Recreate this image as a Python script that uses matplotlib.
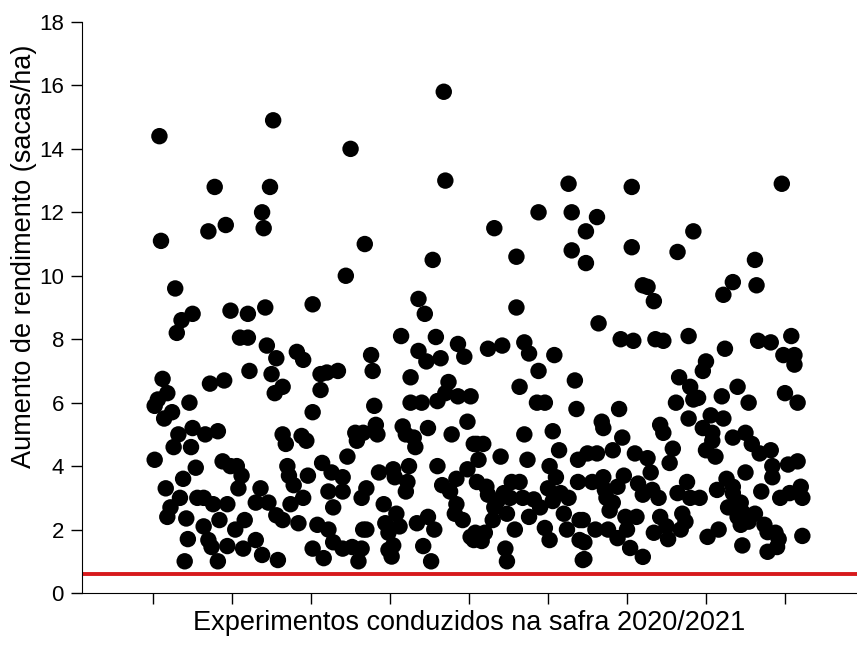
import numpy as np
import matplotlib.pyplot as plt

plt.rcParams['font.family'] = ['Liberation Sans', 'DejaVu Sans']

# experiment number and yield gain (sacas/ha)
experimento = [
    1, 4, 5, 6, 9, 3, 1, 23, 12, 7, 25, 16, 33, 41, 13, 24, 44, 49, 53, 56,
    27, 19, 8, 54, 17, 28, 32, 38, 47, 11, 9, 21, 42, 58, 32, 52, 22, 35, 37, 47,
    57, 20, 41, 14, 39, 35, 46, 25, 18, 15, 49, 60, 55, 60, 61, 36, 45,
    76, 125, 74, 69, 70, 134, 122, 101, 71, 72, 78, 91, 95, 75, 82, 77, 106, 110,
    117, 106, 101, 82, 84, 94, 97, 128, 129, 123, 85, 86, 98, 107, 113, 120, 68, 89,
    95, 111, 120, 65, 73, 87, 114, 78, 82, 92, 104, 111, 133, 65, 101, 108, 114, 120,
    126, 69, 79, 130,
    184, 185, 177, 168, 172, 157, 179, 193, 138, 168, 173, 182, 197, 139, 163, 187,
    185, 193, 201, 163, 170, 180, 140, 199, 141, 158, 174, 133, 142, 160, 165, 189,
    166, 203, 180, 162, 143, 152, 153, 161, 160, 192, 199, 183, 188, 135, 132, 192,
    146, 154, 191, 147, 156, 167, 174, 196, 135, 178, 149, 201, 152, 171, 149, 151,
    132, 176,
    263, 244, 265, 216, 274, 265, 230, 274, 230, 221, 212, 235, 238, 254, 244, 232,
    267, 243, 248, 268, 235, 253, 205, 209, 257, 220, 237, 206, 269, 251, 255, 205,
    211, 227, 232, 250, 212, 222, 258, 269, 218, 226, 234, 241, 253, 263, 216, 245,
    224, 260, 215, 238, 270, 229, 248, 262, 204, 210, 203, 208, 251, 270, 223, 224,
    272,
    303, 281, 342, 303, 332, 310, 313, 317, 282, 296, 304, 318, 323, 339, 333, 340,
    342, 331, 339, 295, 284, 285, 321, 323, 297, 291, 329, 305, 275, 281, 313, 327,
    315, 298, 285, 278, 338, 307, 294, 286, 310, 316, 332, 320, 287, 340, 291, 289,
    321, 335, 299, 306, 272, 337, 325, 280, 288, 300, 334, 317, 294, 326, 273, 302,
    310, 273,
    398, 381, 367, 361, 382, 383, 391, 404, 362, 399, 406, 406, 350, 348, 345, 360,
    370, 377, 400, 408, 353, 361, 348, 354, 354, 367, 375, 379, 384, 391, 350, 356,
    375, 392, 392, 402, 408, 363, 357, 367, 367, 385, 346, 397, 403, 410, 411, 364,
    372, 373, 381, 370, 377, 372, 387, 394, 389, 351, 358, 396, 411, 373, 389, 395,
]
rendimento = [
    4.2, 14.4, 11.1, 6.75, 6.3, 6.1, 5.9, 6.0, 5.7, 5.5, 5.2, 5.0, 5.0, 5.1, 4.6, 4.6, 4.15, 4.0, 4.0, 3.7,
    3.95, 3.6, 3.3, 3.3, 3.0, 3.0, 3.0, 2.8, 2.8, 2.7, 2.4, 2.35, 2.3, 2.3, 2.1, 2.0, 1.7, 1.67, 1.45, 1.48,
    1.4, 1.0, 1.0, 9.6, 12.8, 11.4, 11.6, 8.8, 8.6, 8.2, 8.9, 8.8, 8.05, 8.05, 7.0, 6.6, 6.7,
    14.9, 14.0, 12.8, 12.0, 11.5, 11.0, 10.0, 9.1, 9.0, 7.8, 7.4, 7.6, 7.35, 6.9, 6.5, 6.3, 6.9, 6.95,
    7.0, 6.4, 5.7, 5.0, 4.7, 4.95, 4.8, 5.05, 4.8, 4.3, 4.0, 3.7, 3.7, 4.1, 3.8, 3.65, 3.3, 3.4,
    3.0, 3.2, 3.2, 2.85, 2.85, 2.8, 2.7, 2.45, 2.3, 2.2, 2.15, 2.0, 2.0, 1.67, 1.4, 1.1, 1.6, 1.4,
    1.45, 1.2, 1.04, 1.0,
    15.8, 13.0, 10.5, 9.27, 8.8, 8.1, 8.07, 7.85, 7.5, 7.63, 7.3, 7.4, 7.45, 7.0, 6.8, 6.65,
    6.3, 6.2, 6.2, 6.0, 6.0, 6.05, 5.9, 5.4, 5.3, 5.25, 5.2, 5.05, 5.0, 5.0, 4.9, 5.0,
    4.6, 4.7, 4.0, 4.0, 3.8, 3.9, 3.65, 3.5, 3.2, 3.6, 3.9, 3.4, 3.2, 3.3, 3.0, 2.8,
    2.8, 2.5, 2.5, 2.2, 2.1, 2.2, 2.4, 2.3, 2.0, 2.0, 1.9, 1.77, 1.5, 1.48, 1.36, 1.15,
    1.4, 1.0,
    12.9, 12.0, 12.0, 11.5, 11.4, 10.8, 10.6, 10.4, 9.0, 7.8, 7.7, 7.9, 7.55, 7.5, 7.0, 6.5,
    6.7, 6.0, 6.0, 5.8, 5.0, 5.1, 4.7, 4.7, 4.5, 4.3, 4.2, 4.2, 4.2, 4.0, 3.65, 3.5,
    3.35, 3.5, 3.5, 3.3, 3.1, 3.15, 3.15, 3.5, 2.9, 3.0, 3.0, 2.95, 2.9, 3.0, 2.7, 2.7,
    2.5, 2.5, 2.3, 2.4, 2.3, 2.0, 2.05, 2.0, 1.9, 1.9, 1.67, 1.64, 1.67, 1.67, 1.4, 1.0,
    1.04,
    12.8, 11.85, 11.4, 10.9, 10.75, 9.7, 9.65, 9.2, 8.5, 8.0, 7.95, 8.0, 7.95, 8.1, 6.8, 6.5,
    6.1, 6.0, 5.5, 5.8, 5.4, 5.2, 5.3, 5.05, 4.9, 4.5, 4.55, 4.4, 4.4, 4.4, 4.25, 4.1,
    3.8, 3.7, 3.65, 3.5, 3.5, 3.45, 3.35, 3.25, 3.1, 3.25, 3.15, 3.0, 3.0, 3.0, 2.85, 2.6,
    2.4, 2.5, 2.4, 2.4, 2.3, 2.25, 2.1, 2.0, 2.0, 2.0, 2.0, 1.9, 1.73, 1.7, 1.6, 1.42,
    1.14, 1.07,
    12.9, 10.5, 9.8, 9.4, 9.7, 7.95, 7.9, 8.1, 7.7, 7.5, 7.5, 7.2, 7.3, 7.0, 6.15, 6.2,
    6.5, 6.0, 6.3, 6.0, 5.6, 5.5, 5.2, 5.05, 4.8, 4.9, 5.05, 4.7, 4.4, 4.5, 4.5, 4.3,
    3.8, 4.0, 3.65, 4.05, 4.15, 3.6, 3.25, 3.35, 3.15, 3.2, 3.0, 3.0, 3.15, 3.35, 3.0, 2.7,
    2.85, 2.55, 2.5, 2.4, 2.25, 2.15, 2.15, 1.9, 1.92, 1.77, 2.0, 1.7, 1.8, 1.5, 1.3, 1.45,
]
limiar = 0.6
y_ticks = [0, 2, 4, 6, 8, 10, 12, 14, 16, 18]
x_ticks = [0, 50, 100, 150, 200, 250, 300, 350, 400]

fig = plt.figure(figsize=(8.57, 6.46), dpi=100)
ax = fig.add_axes([0.0957, 0.082, 0.9043, 0.884])

ax.scatter(experimento, rendimento, s=140, color='black', edgecolors='none', zorder=3)
ax.axhline(limiar, color='#d7191c', lw=2.8, zorder=2)

ax.set_xlim(-45, 445.6)
ax.set_ylim(0, 18)
ax.set_yticks(y_ticks)
ax.set_xticks(x_ticks)
ax.set_xticklabels([])
ax.tick_params(axis='both', direction='out', length=8, width=1, labelsize=16)
ax.tick_params(axis='y', pad=5)
ax.spines['top'].set_visible(False)
ax.spines['right'].set_visible(False)

ax.set_ylabel('Aumento de rendimento (sacas/ha)', fontsize=19.5)
ax.yaxis.set_label_coords(-0.058, 0.59)
ax.set_xlabel('Experimentos conduzidos na safra 2020/2021', fontsize=19.5, labelpad=1)

fig.savefig('out.png', dpi=100)
